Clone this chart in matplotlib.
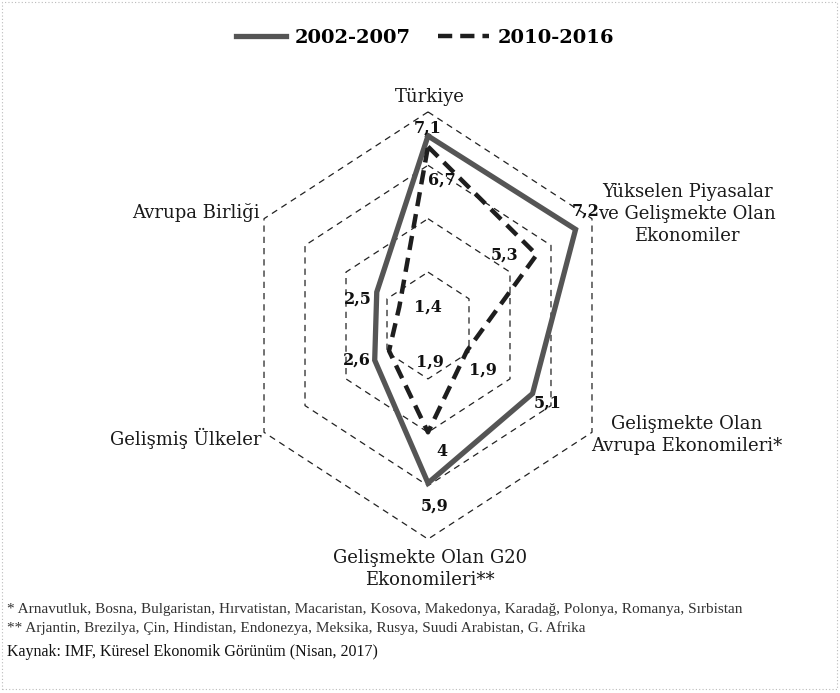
import numpy as np
import matplotlib
matplotlib.use("Agg")
import matplotlib.pyplot as plt
from matplotlib.patches import Rectangle

# ---- data ----
categories = ["Türkiye",
              "Yükselen Piyasalar\nve Gelişmekte Olan\nEkonomiler",
              "Gelişmekte Olan\nAvrupa Ekonomileri*",
              "Gelişmekte Olan G20\nEkonomileri**",
              "Gelişmiş Ülkeler",
              "Avrupa Birliği"]
series_names = ["2002-2007", "2010-2016"]
values_2002_2007 = [7.1, 7.2, 5.1, 5.9, 2.6, 2.5]
values_2010_2016 = [6.7, 5.3, 1.9, 4.0, 1.9, 1.4]
grid_levels = [2, 4, 6, 8]
footnotes = ["* Arnavutluk, Bosna, Bulgaristan, Hırvatistan, Macaristan, Kosova, Makedonya, Karadağ, Polonya, Romanya, Sırbistan",
             "** Arjantin, Brezilya, Çin, Hindistan, Endonezya, Meksika, Rusya, Suudi Arabistan, G. Afrika"]
source = "Kaynak: IMF, Küresel Ekonomik Görünüm (Nisan, 2017)"

W, H = 840, 693
fig = plt.figure(figsize=(W / 100, H / 100), dpi=100)
ax = fig.add_axes([0, 0, 1, 1])
ax.set_axis_off()

cx_px, cy_px = 428, 325.5
sx, sy = 23.67, 26.7  # px per unit
ax.set_xlim(-cx_px / sx, (W - cx_px) / sx)
ax.set_ylim(-(H - cy_px) / sy, cy_px / sy)

n = len(categories)
ang = np.arange(n) * 2 * np.pi / n


def xy(vals):
    v = np.asarray(vals, float)
    x = v * np.sin(ang)
    y = v * np.cos(ang)
    return np.append(x, x[0]), np.append(y, y[0])


# grid hexagons
for lv in grid_levels:
    gx, gy = xy([lv] * n)
    ax.plot(gx, gy, color="#222222", lw=0.9, linestyle=(0, (5, 4)), zorder=1)

x1, y1 = xy(values_2002_2007)
x2, y2 = xy(values_2010_2016)
ax.plot(x1, y1, color="#555555", lw=3.8, solid_joinstyle="miter", zorder=3,
        label=series_names[0])
ax.plot(x2, y2, color="#1e1e1e", lw=3.2, linestyle=(0, (3.2, 1.8)), zorder=4,
        label=series_names[1])

lab_font = dict(family="DejaVu Serif", fontsize=11.5, fontweight="bold", color="#111111")

# value labels (offsets in pixels)
off1 = [(0, 8), (10, 18), (15, -10), (7, -23), (-18, 0), (-19, -7)]
off2 = [(14, -33), (-32, 0), (16, -19), (14, -19), (41, -11), (29, 0)]
px1, py1 = x1[:-1], y1[:-1]
px2, py2 = x2[:-1], y2[:-1]
for i in range(n):
    ax.annotate(f"{values_2002_2007[i]:g}".replace(".", ","), (px1[i], py1[i]),
                xytext=off1[i], textcoords="offset pixels",
                ha="center", va="center", zorder=6, **lab_font)
    ax.annotate(f"{values_2010_2016[i]:g}".replace(".", ","), (px2[i], py2[i]),
                xytext=off2[i], textcoords="offset pixels",
                ha="center", va="center", zorder=6, **lab_font)

# category labels (pixel positions)
cat_pos = [(430, 97, "center"), (687, 214, "center"), (687, 435, "center"),
           (430, 569, "center"), (262, 438, "right"), (260, 213, "right")]
cat_font = dict(family="DejaVu Serif", fontsize=13, color="#1a1a1a")
for (px, py, ha), lab in zip(cat_pos, categories):
    fig.text(px / W, 1 - py / H, lab, ha=ha, va="center", linespacing=1.3,
             multialignment="center", **cat_font)

# legend
leg = ax.legend(loc="upper center", bbox_to_anchor=(0.506, 0.983), ncol=2,
                frameon=False, handlelength=2.6, columnspacing=1.4,
                handletextpad=0.45,
                prop=dict(family="DejaVu Serif", weight="bold", size=14))

# footnotes
fig.text(7 / W, 1 - 609 / H, footnotes[0], ha="left", va="center",
         family="Liberation Serif", fontsize=11, color="#333333")
fig.text(7 / W, 1 - 628 / H, footnotes[1], ha="left", va="center",
         family="Liberation Serif", fontsize=11, color="#333333")
fig.text(7 / W, 1 - 652 / H, source, ha="left", va="center",
         family="Liberation Serif", fontsize=11.5, color="#111111")

# border
fig.patches.append(Rectangle((2 / W, 4 / H), 1 - 5 / W, 1 - 6 / H,
                             transform=fig.transFigure, fill=False,
                             edgecolor="#bbbbbb", lw=0.8, linestyle=(0, (1, 2))))

fig.savefig("out.png", dpi=100)
